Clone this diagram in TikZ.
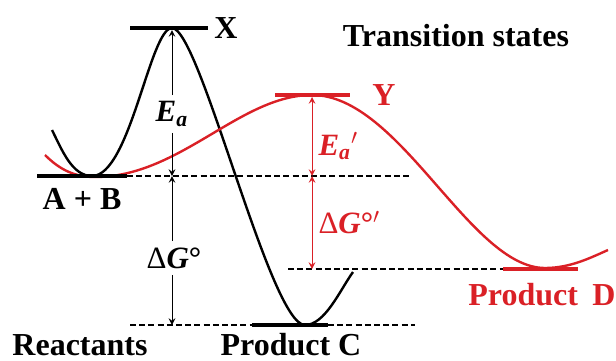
\documentclass[tikz,border=0pt]{standalone}
\usepackage{fontspec}
\setmainfont{Liberation Serif}
\usetikzlibrary{arrows, positioning}

\definecolor{pathred}{RGB}{218,32,38}
\newcommand{\enA}{\textit{E}\textsubscript{\textit{a}}}
\newcommand{\enG}{\textmd{Δ}\textit{G}°}

\begin{document}
\begin{tikzpicture}[
    x=0.5pt, y=-0.5pt,
    level/.style={line width=2pt},
    curve/.style={line width=1.2pt},
    guide/.style={line width=0.6pt, dash pattern=on 3pt off 1.6pt},
    arrow/.style={line width=0.5pt,<->,>=stealth},
    lbl/.style={font=\fontsize{16}{18}\selectfont\bfseries, inner sep=0pt},
    mlbl/.style={font=\fontsize{15.5}{18}\selectfont\bfseries, inner sep=3pt}
]
\useasboundingbox (0,0) rectangle (616,360);

% Levels
\coordinate (xl) at (130,28);   \coordinate (xr) at (208,28);
\coordinate (abl) at (37,176);  \coordinate (abr) at (127,176);
\coordinate (cl) at (252,325);  \coordinate (cr) at (328,325);
\coordinate (yl) at (275,95);   \coordinate (yr) at (350,95);
\coordinate (dl) at (503,269);  \coordinate (dr) at (578,269);

% Guide ends
\coordinate (abend) at (410,176);
\coordinate (cstart) at (130,325);
\coordinate (cend) at (415,325);
\coordinate (dstart) at (288,269);

% Arrow ends
\coordinate (xtop) at (172,30);
\coordinate (ablev) at (172,176);
\coordinate (cbot) at (172,325);
\coordinate (ytop) at (312,97);
\coordinate (ablev2) at (312,176);
\coordinate (dlev) at (312,269);

% Dashed guides
\draw[guide] (abr) -- (abend);
\draw[guide] (cstart) -- (cl);
\draw[guide] (cr) -- (cend);
\draw[guide] (dstart) -- (dl);

% Black path
\draw[curve] (52,130) .. controls (62,150) and (72,176) .. (92,176)
    .. controls (130,176) and (150,28) .. (172,28)
    .. controls (200,28) and (270,325) .. (305,325)
    .. controls (325,325) and (340,290) .. (353,272);

% Red path
\draw[curve, pathred] (45,155) .. controls (60,170) and (75,177) .. (95,177)
    .. controls (180,177) and (240,95) .. (312,95)
    .. controls (400,95) and (470,268) .. (545,268)
    .. controls (570,268) and (590,258) .. (608,250);

% Bars
\draw[level] (xl) -- (xr);
\draw[level] (abl) -- (abr);
\draw[level] (cl) -- (cr);
\draw[level, pathred] (yl) -- (yr);
\draw[level, pathred] (dl) -- (dr);

% Energy arrows
\node[mlbl] (ea) at (172,114) {\enA};
\node[mlbl] (dg) at (174,258) {\enG};
\draw[arrow, -stealth] (ea) -- (xtop);
\draw[arrow, -stealth] (ea) -- (ablev);
\draw[arrow, -stealth] (dg.north -| ablev) -- (ablev);
\draw[arrow, -stealth] (dg.south -| cbot) -- (cbot);
\draw[arrow, pathred] (ytop) -- (ablev2)
    node[mlbl, pos=0.62, right=0pt, text=pathred] (eap) {\enA$'$};
\draw[arrow, pathred] (ablev2) -- (dlev)
    node[mlbl, midway, right=0pt, text=pathred] (dgp) {\enG$'$};

% Labels
\node[lbl, right=3pt of xr] (xlab) {X};
\node[lbl, right=11pt of yr, text=pathred] (ylab) {Y};
\node[lbl] (ts) at (456,36) {Transition states};
\node[lbl, anchor=base] (ab) at (82,209) {A + B};
\node[lbl, anchor=base] (react) at (80,355) {Reactants};
\node[lbl, anchor=base] (prodc) at (291,355) {Product C};
\node[lbl, anchor=base, text=pathred] (prodd) at (542,305) {Product\hspace{0.2em} D};

\end{tikzpicture}
\end{document}
